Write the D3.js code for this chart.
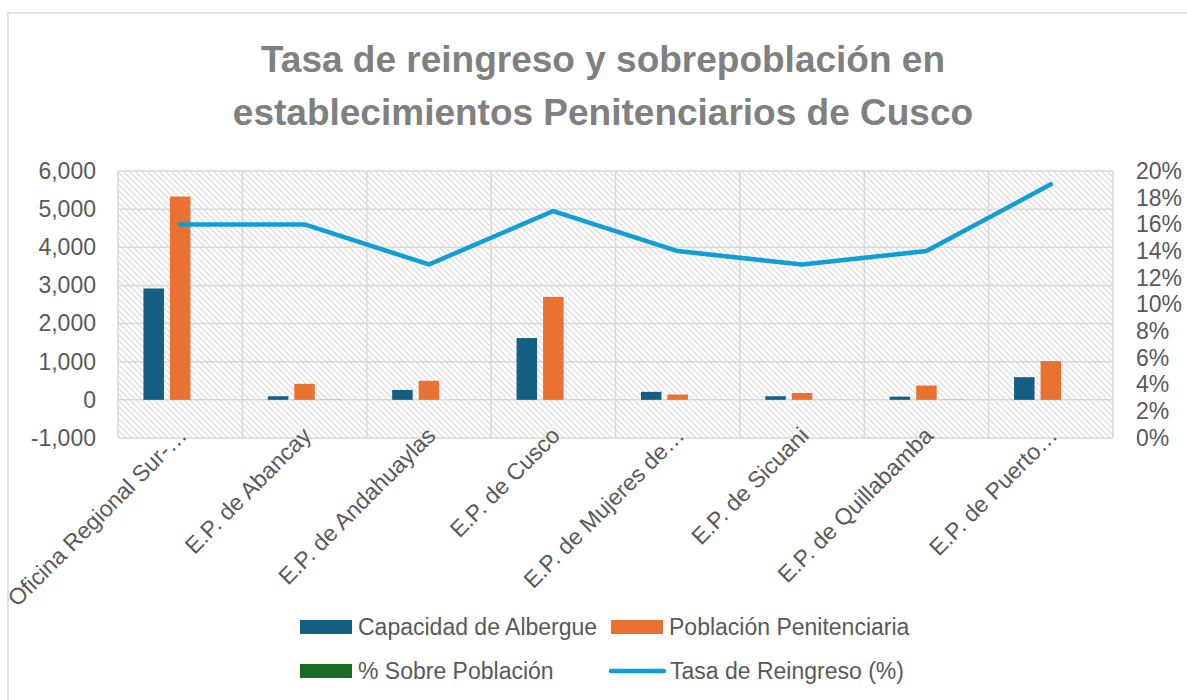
<!DOCTYPE html>
<meta charset="utf-8">
<title>Tasa de reingreso y sobrepoblación</title>
<style>

body {
  margin: 0;
  background: #fff;
}

text {
  font-family: "Liberation Sans", Arial, sans-serif;
  fill: #595959;
}

</style>
<body>
  <script src="https://d3js.org/d3.v7.min.js"></script>
  <script>

  const width = 1187; /* page size */
  const height = 700;

  // data
  const categories = ["Oficina Regional Sur-…", "E.P. de Abancay", "E.P. de Andahuaylas", "E.P. de Cusco",
    "E.P. de Mujeres de…", "E.P. de Sicuani", "E.P. de Quillabamba", "E.P. de Puerto…"];
  const capacidad = [2920, 95, 260, 1620, 210, 95, 85, 595];
  const poblacion = [5330, 420, 500, 2700, 140, 180, 375, 1015];
  const sobrePoblacion = [0.82, 3.4, 0.93, 0.67, -0.33, 0.89, 3.4, 0.71];
  const reingreso = [0.16, 0.16, 0.13, 0.17, 0.14, 0.13, 0.14, 0.19];
  const leftTicks = [-1000, 0, 1000, 2000, 3000, 4000, 5000, 6000];
  const rightTicks = [0, 0.02, 0.04, 0.06, 0.08, 0.10, 0.12, 0.14, 0.16, 0.18, 0.20];

  const barSeries = [
    {name: "Capacidad de Albergue", values: capacidad, color: "#156082"},
    {name: "Población Penitenciaria", values: poblacion, color: "#e97132"},
    {name: "% Sobre Población", values: sobrePoblacion, color: "#196b24"}
  ];
  const lineColor = "#0f9ed5";

  const plot = {left: 118, right: 1113, top: 171, bottom: 438};
  const fontSize = "23px";

  // plain hyphen for negatives, like the original
  const locale = d3.formatLocale({decimal: ".", thousands: ",", grouping: [3], currency: ["$", ""], minus: "-"});

  const svg = d3.select("body").append("svg")
      .attr("width", width)
      .attr("height", height);

  // diagonal hatch for the plot area
  const defs = svg.append("defs");
  defs.append("pattern")
      .attr("id", "hatch")
      .attr("patternUnits", "userSpaceOnUse")
      .attr("width", 6)
      .attr("height", 6)
    .append("path")
      .attr("d", "M-3,3L3,9M0,0L6,6M3,-3L9,3")
      .attr("stroke", "#dedede")
      .attr("stroke-width", 1.3);

  // chart area border
  svg.append("rect")
      .attr("x", 8).attr("y", 13)
      .attr("width", 1200).attr("height", 720)
      .attr("fill", "none")
      .attr("stroke", "#d9d9d9")
      .attr("stroke-width", 1.5);

  // title
  svg.append("text")
      .attr("x", 603)
      .attr("text-anchor", "middle")
      .style("font-weight", "bold")
      .style("font-size", "37px")
      .style("fill", "#808080")
    .selectAll("tspan")
    .data(["Tasa de reingreso y sobrepoblación en", "establecimientos Penitenciarios de Cusco"])
    .join("tspan")
      .attr("x", 603)
      .attr("y", (d, i) => 72 + i * 53)
      .text(d => d);

  const x0 = d3.scaleBand()
      .domain(categories)
      .range([plot.left, plot.right]);

  const x1 = d3.scaleBand()
      .domain(barSeries.map(s => s.name))
      .range([0, 73.5])
      .paddingInner(0.226);

  const y = d3.scaleLinear()
      .domain([-1000, 6000])
      .range([plot.bottom, plot.top]);

  const y2 = d3.scaleLinear()
      .domain([0, 0.2])
      .range([plot.bottom, plot.top]);

  svg.append("rect")
      .attr("x", plot.left).attr("y", plot.top)
      .attr("width", plot.right - plot.left)
      .attr("height", plot.bottom - plot.top)
      .attr("fill", "url(#hatch)");

  // gridlines
  const grid = svg.append("g")
      .attr("stroke", "#d9d9d9")
      .attr("stroke-width", 1.5);
  grid.selectAll("line.h")
    .data(leftTicks)
    .join("line")
      .attr("class", "h")
      .attr("x1", plot.left).attr("x2", plot.right)
      .attr("y1", d => y(d)).attr("y2", d => y(d));
  grid.selectAll("line.v")
    .data(categories.concat(["end"]))
    .join("line")
      .attr("class", "v")
      .attr("x1", (d, i) => plot.left + i * x0.step())
      .attr("x2", (d, i) => plot.left + i * x0.step())
      .attr("y1", plot.top).attr("y2", plot.bottom);

  // left axis
  const leftAxis = svg.append("g")
      .attr("transform", `translate(${plot.left},0)`)
      .call(d3.axisLeft(y).tickValues(leftTicks).tickSize(0).tickPadding(22).tickFormat(locale.format(",")));
  leftAxis.select(".domain").remove();
  leftAxis.selectAll("text")
      .style("font-size", fontSize)
      .style("fill", "#595959");

  // right axis
  const rightAxis = svg.append("g")
      .attr("transform", `translate(${plot.right},0)`)
      .call(d3.axisRight(y2).tickValues(rightTicks).tickSize(0).tickPadding(23).tickFormat(locale.format(".0%")));
  rightAxis.select(".domain").remove();
  rightAxis.selectAll("text")
      .style("font-size", fontSize)
      .style("fill", "#595959");

  // bars
  svg.append("g")
    .selectAll("g")
    .data(barSeries)
    .join("g")
      .attr("fill", s => s.color)
    .selectAll("rect")
    .data(s => s.values.map((v, i) => ({name: s.name, cat: categories[i], v: v})))
    .join("rect")
      .attr("x", d => x0(d.cat) + x0.bandwidth() / 2 - 36.75 + x1(d.name))
      .attr("y", d => y(Math.max(0, d.v)))
      .attr("width", x1.bandwidth())
      .attr("height", d => Math.abs(y(d.v) - y(0)));

  // reingreso line
  const line = d3.line()
      .x((d, i) => x0(categories[i]) + x0.bandwidth() / 2)
      .y(d => y2(d));

  svg.append("path")
      .datum(reingreso)
      .attr("fill", "none")
      .attr("stroke", lineColor)
      .attr("stroke-width", 4.5)
      .attr("stroke-linecap", "round")
      .attr("stroke-linejoin", "round")
      .attr("d", line);

  // category labels
  svg.append("g")
    .selectAll("text")
    .data(categories)
    .join("text")
      .attr("transform", d => `translate(${x0(d) + x0.bandwidth() / 2 + 8},${plot.bottom - 1}) rotate(-45)`)
      .attr("text-anchor", "end")
      .style("font-size", fontSize)
      .text(d => d);

  // legend
  const legendItems = [
    {name: barSeries[0].name, color: barSeries[0].color, type: "bar", x: 300, y: 627},
    {name: barSeries[1].name, color: barSeries[1].color, type: "bar", x: 611, y: 627},
    {name: barSeries[2].name, color: barSeries[2].color, type: "bar", x: 300, y: 671},
    {name: "Tasa de Reingreso (%)", color: lineColor, type: "line", x: 611, y: 671}
  ];

  const legend = svg.append("g")
    .selectAll("g")
    .data(legendItems)
    .join("g")
      .attr("transform", d => `translate(${d.x},${d.y})`);

  legend.filter(d => d.type === "bar").append("rect")
      .attr("x", 0).attr("y", -7)
      .attr("width", 52).attr("height", 14)
      .attr("fill", d => d.color);

  legend.filter(d => d.type === "line").append("line")
      .attr("x1", 0).attr("x2", 53)
      .attr("y1", 0).attr("y2", 0)
      .attr("stroke", d => d.color)
      .attr("stroke-width", 4.5)
      .attr("stroke-linecap", "round");

  legend.append("text")
      .attr("x", d => d.type === "bar" ? 58 : 59)
      .attr("y", 0)
      .attr("dy", "0.35em")
      .style("font-size", fontSize)
      .text(d => d.name);

  </script>
</body>
